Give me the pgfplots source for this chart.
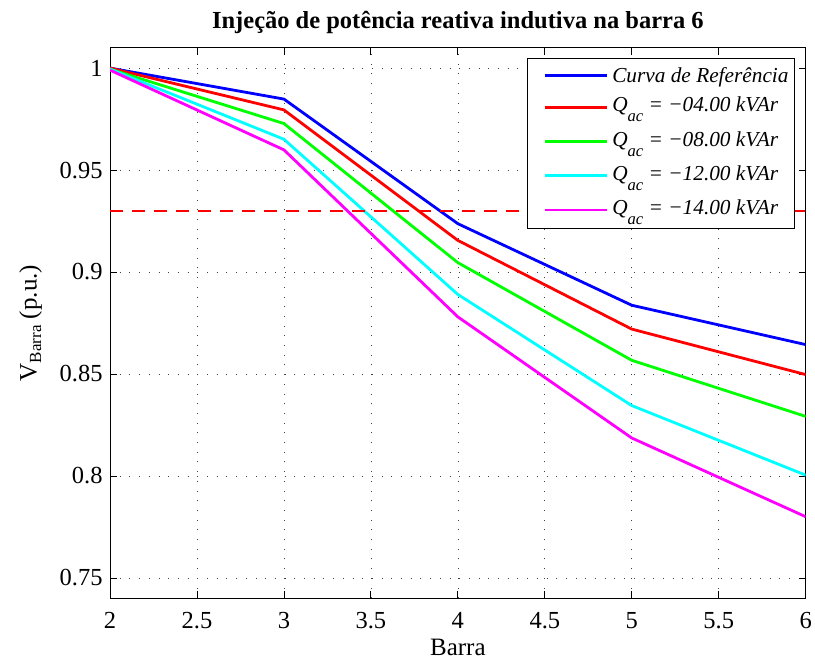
\documentclass[border=0pt]{standalone}
\usepackage{fontspec}
\setmainfont{Liberation Serif}
\usepackage{pgfplots}
\pgfplotsset{compat=1.18}
\definecolor{mblue}{rgb}{0,0,1}
\definecolor{mred}{rgb}{1,0,0}
\definecolor{mgreen}{rgb}{0,1,0}
\definecolor{mcyan}{rgb}{0,1,1}
\definecolor{mmag}{rgb}{1,0,1}
\newcommand{\qac}[1]{\raisebox{4.5pt}{\textit{Q}\raisebox{-10pt}{\fontsize{16.6}{18}\selectfont\textit{ac}}\textit{ = −#1 kVAr}}}
\begin{document}
\begin{tikzpicture}
\begin{axis}[
  name=ax,
  scale only axis,
  width=695.7pt, height=550.6pt,
  xmin=2, xmax=6, ymin=0.74, ymax=1.01,
  xtick={2,2.5,3,3.5,4,4.5,5,5.5,6},
  ytick={0.75,0.8,0.85,0.9,0.95,1},
  /pgf/number format/assume math mode=true,
  tick label style={font=\fontsize{24.5}{29}\selectfont},
  xticklabel style={anchor=base, yshift=-30pt, inner sep=0pt},
  yticklabel style={anchor=east, inner sep=0pt, xshift=-7.3pt},
  tick align=inside,
  major tick length=7pt,
  tick style={black, line width=0.8pt},
  axis line style={black, line width=1pt},
  grid=major,
  major grid style={black!75, line width=0.7pt, dash pattern=on 1pt off 8.7pt},
  every axis title shift=0pt,
  title={Injeção de potência reativa indutiva na barra 6},
  title style={font=\bfseries\fontsize{24.5}{29}\selectfont, at={(axis description cs:0.5,1.034)}, anchor=base, inner sep=0pt},
  xlabel={Barra},
  xlabel style={font=\fontsize{25}{29}\selectfont, at={(axis description cs:0.5,-0.1039)}, anchor=base, inner sep=0pt},
  legend style={at={(axis description cs:1,1)}, anchor=north east, xshift=-10.7pt, yshift=-10.6pt,
     draw=black, line width=1pt, fill=white, font=\fontsize{21.3}{25}\selectfont,
     inner xsep=4pt, inner ysep=6.5pt, row sep=9.35pt},
  legend cell align=left,
  legend image code/.code={\path (-3pt,0pt); \draw[#1] (9pt,0pt) -- (71pt,0pt); \path (73pt,0pt);},
  every axis plot/.append style={line width=2.8pt, line join=round},
]
\addplot[mblue] coordinates {(2,1.0) (3,0.9848) (4,0.9237) (5,0.8837) (6,0.8644)};
\addlegendentry{\textit{Curva de Referência}}
\addplot[mred] coordinates {(2,1.0) (3,0.9795) (4,0.9155) (5,0.8720) (6,0.8497)};
\addlegendentry{\qac{04.00}}
\addplot[mgreen] coordinates {(2,0.9995) (3,0.9728) (4,0.9046) (5,0.8567) (6,0.8292)};
\addlegendentry{\qac{08.00}}
\addplot[mcyan] coordinates {(2,0.9995) (3,0.9651) (4,0.8890) (5,0.8345) (6,0.8004)};
\addlegendentry{\qac{12.00}}
\addplot[mmag] coordinates {(2,0.999) (3,0.9599) (4,0.8780) (5,0.8186) (6,0.7800)};
\addlegendentry{\qac{14.00}}
\addplot[mred, line width=2.2pt, dash pattern=on 13pt off 9pt, forget plot] coordinates {(2,0.93) (6,0.93)};
\end{axis}
\node[font=\fontsize{25}{29}\selectfont, rotate=90, anchor=center, inner sep=0pt] at ([shift={(-79.3pt,275.3pt)}]ax.south west) {V\raisebox{-4.5pt}{\fontsize{17}{20}\selectfont Barra} (p.u.)};
\pgfresetboundingbox
\path[use as bounding box] ([shift={(-110pt,-61.7pt)}]ax.south west) rectangle ([shift={(9.3pt,47.7pt)}]ax.north east);
\end{tikzpicture}
\end{document}
